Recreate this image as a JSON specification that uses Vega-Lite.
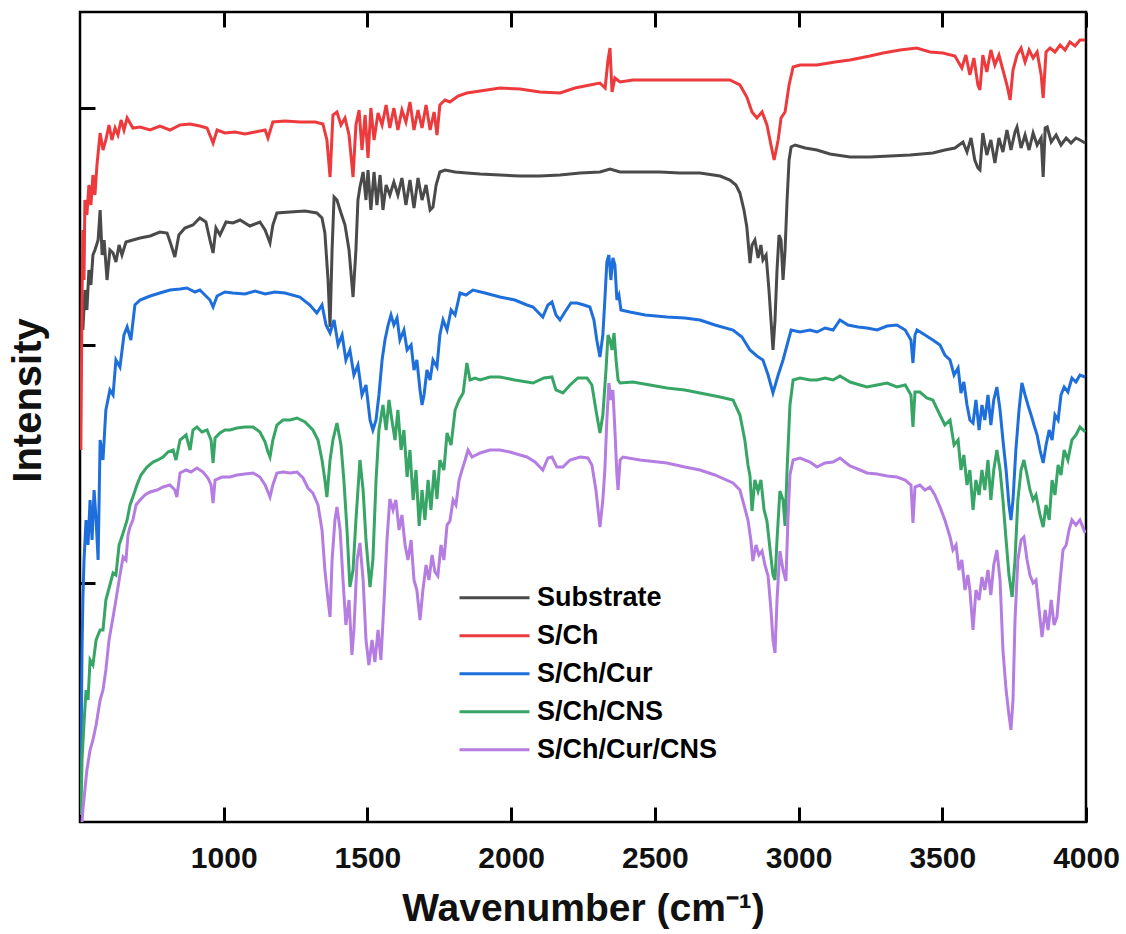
{
  "$schema": "https://vega.github.io/schema/vega-lite/v6.json",
  "width": 1006,
  "height": 810,
  "autosize": {"type": "none"},
  "padding": {"left": 80, "top": 12, "right": 40, "bottom": 112},
  "background": "white",
  "config": {
    "view": {"stroke": "black", "strokeWidth": 2.5},
    "font": "Liberation Sans"
  },
  "data": {"values": [
{"s":"Substrate","x":510,"v":492},{"s":"Substrate","x":517,"v":532},{"s":"Substrate","x":524,"v":512},{"s":"Substrate","x":531,"v":552},{"s":"Substrate","x":538,"v":537},{"s":"Substrate","x":545,"v":567},{"s":"Substrate","x":552,"v":572},{"s":"Substrate","x":563,"v":582},{"s":"Substrate","x":570,"v":612},{"s":"Substrate","x":577,"v":567},{"s":"Substrate","x":584,"v":582},{"s":"Substrate","x":594,"v":542},{"s":"Substrate","x":604,"v":572},{"s":"Substrate","x":615,"v":569},{"s":"Substrate","x":625,"v":560},{"s":"Substrate","x":636,"v":577},{"s":"Substrate","x":646,"v":567},{"s":"Substrate","x":660,"v":580},{"s":"Substrate","x":684,"v":582},{"s":"Substrate","x":709,"v":584},{"s":"Substrate","x":744,"v":586},{"s":"Substrate","x":778,"v":590},{"s":"Substrate","x":803,"v":589},{"s":"Substrate","x":817,"v":577},{"s":"Substrate","x":830,"v":565},{"s":"Substrate","x":844,"v":587},{"s":"Substrate","x":865,"v":594},{"s":"Substrate","x":893,"v":597},{"s":"Substrate","x":917,"v":604},{"s":"Substrate","x":938,"v":600},{"s":"Substrate","x":952,"v":582},{"s":"Substrate","x":963,"v":569},{"s":"Substrate","x":973,"v":594},{"s":"Substrate","x":987,"v":587},{"s":"Substrate","x":1008,"v":600},{"s":"Substrate","x":1032,"v":599},{"s":"Substrate","x":1057,"v":602},{"s":"Substrate","x":1091,"v":596},{"s":"Substrate","x":1126,"v":600},{"s":"Substrate","x":1144,"v":592},{"s":"Substrate","x":1161,"v":579},{"s":"Substrate","x":1171,"v":597},{"s":"Substrate","x":1185,"v":609},{"s":"Substrate","x":1231,"v":610},{"s":"Substrate","x":1283,"v":611},{"s":"Substrate","x":1324,"v":609},{"s":"Substrate","x":1342,"v":604},{"s":"Substrate","x":1352,"v":589},{"s":"Substrate","x":1363,"v":542},{"s":"Substrate","x":1370,"v":495},{"s":"Substrate","x":1377,"v":572},{"s":"Substrate","x":1384,"v":625},{"s":"Substrate","x":1394,"v":622},{"s":"Substrate","x":1408,"v":609},{"s":"Substrate","x":1422,"v":597},{"s":"Substrate","x":1436,"v":572},{"s":"Substrate","x":1450,"v":525},{"s":"Substrate","x":1460,"v":572},{"s":"Substrate","x":1467,"v":622},{"s":"Substrate","x":1474,"v":635},{"s":"Substrate","x":1485,"v":650},{"s":"Substrate","x":1495,"v":622},{"s":"Substrate","x":1502,"v":652},{"s":"Substrate","x":1512,"v":612},{"s":"Substrate","x":1523,"v":650},{"s":"Substrate","x":1533,"v":617},{"s":"Substrate","x":1544,"v":647},{"s":"Substrate","x":1554,"v":612},{"s":"Substrate","x":1565,"v":637},{"s":"Substrate","x":1578,"v":627},{"s":"Substrate","x":1592,"v":640},{"s":"Substrate","x":1606,"v":627},{"s":"Substrate","x":1620,"v":644},{"s":"Substrate","x":1634,"v":617},{"s":"Substrate","x":1648,"v":642},{"s":"Substrate","x":1662,"v":614},{"s":"Substrate","x":1676,"v":644},{"s":"Substrate","x":1690,"v":622},{"s":"Substrate","x":1704,"v":637},{"s":"Substrate","x":1718,"v":612},{"s":"Substrate","x":1728,"v":615},{"s":"Substrate","x":1739,"v":637},{"s":"Substrate","x":1752,"v":650},{"s":"Substrate","x":1770,"v":652},{"s":"Substrate","x":1805,"v":650},{"s":"Substrate","x":1846,"v":649},{"s":"Substrate","x":1892,"v":648},{"s":"Substrate","x":1961,"v":647},{"s":"Substrate","x":2031,"v":646},{"s":"Substrate","x":2100,"v":646},{"s":"Substrate","x":2170,"v":647},{"s":"Substrate","x":2240,"v":649},{"s":"Substrate","x":2309,"v":650},{"s":"Substrate","x":2344,"v":653},{"s":"Substrate","x":2379,"v":650},{"s":"Substrate","x":2448,"v":650},{"s":"Substrate","x":2518,"v":650},{"s":"Substrate","x":2587,"v":649},{"s":"Substrate","x":2657,"v":649},{"s":"Substrate","x":2727,"v":646},{"s":"Substrate","x":2761,"v":642},{"s":"Substrate","x":2782,"v":637},{"s":"Substrate","x":2796,"v":629},{"s":"Substrate","x":2810,"v":612},{"s":"Substrate","x":2820,"v":595},{"s":"Substrate","x":2827,"v":572},{"s":"Substrate","x":2831,"v":559},{"s":"Substrate","x":2838,"v":577},{"s":"Substrate","x":2848,"v":582},{"s":"Substrate","x":2859,"v":564},{"s":"Substrate","x":2869,"v":577},{"s":"Substrate","x":2876,"v":562},{"s":"Substrate","x":2887,"v":567},{"s":"Substrate","x":2897,"v":532},{"s":"Substrate","x":2904,"v":502},{"s":"Substrate","x":2911,"v":472},{"s":"Substrate","x":2918,"v":502},{"s":"Substrate","x":2925,"v":552},{"s":"Substrate","x":2932,"v":587},{"s":"Substrate","x":2939,"v":582},{"s":"Substrate","x":2946,"v":542},{"s":"Substrate","x":2953,"v":572},{"s":"Substrate","x":2960,"v":622},{"s":"Substrate","x":2967,"v":662},{"s":"Substrate","x":2974,"v":675},{"s":"Substrate","x":2988,"v":677},{"s":"Substrate","x":3023,"v":674},{"s":"Substrate","x":3064,"v":672},{"s":"Substrate","x":3109,"v":668},{"s":"Substrate","x":3179,"v":665},{"s":"Substrate","x":3248,"v":665},{"s":"Substrate","x":3318,"v":666},{"s":"Substrate","x":3388,"v":667},{"s":"Substrate","x":3467,"v":669},{"s":"Substrate","x":3509,"v":672},{"s":"Substrate","x":3544,"v":674},{"s":"Substrate","x":3572,"v":680},{"s":"Substrate","x":3586,"v":670},{"s":"Substrate","x":3600,"v":684},{"s":"Substrate","x":3613,"v":662},{"s":"Substrate","x":3624,"v":654},{"s":"Substrate","x":3631,"v":652},{"s":"Substrate","x":3641,"v":689},{"s":"Substrate","x":3655,"v":667},{"s":"Substrate","x":3669,"v":682},{"s":"Substrate","x":3683,"v":659},{"s":"Substrate","x":3697,"v":684},{"s":"Substrate","x":3711,"v":670},{"s":"Substrate","x":3725,"v":692},{"s":"Substrate","x":3739,"v":672},{"s":"Substrate","x":3753,"v":690},{"s":"Substrate","x":3760,"v":695},{"s":"Substrate","x":3774,"v":674},{"s":"Substrate","x":3788,"v":687},{"s":"Substrate","x":3802,"v":672},{"s":"Substrate","x":3816,"v":689},{"s":"Substrate","x":3830,"v":677},{"s":"Substrate","x":3844,"v":684},{"s":"Substrate","x":3851,"v":645},{"s":"Substrate","x":3858,"v":694},{"s":"Substrate","x":3865,"v":695},{"s":"Substrate","x":3879,"v":680},{"s":"Substrate","x":3896,"v":687},{"s":"Substrate","x":3913,"v":677},{"s":"Substrate","x":3931,"v":684},{"s":"Substrate","x":3948,"v":679},{"s":"Substrate","x":3965,"v":684},{"s":"Substrate","x":3979,"v":682},{"s":"Substrate","x":3997,"v":679},
{"s":"S/Ch","x":503,"v":372},{"s":"S/Ch","x":507,"v":522},{"s":"S/Ch","x":510,"v":592},{"s":"S/Ch","x":514,"v":542},{"s":"S/Ch","x":517,"v":622},{"s":"S/Ch","x":524,"v":607},{"s":"S/Ch","x":531,"v":637},{"s":"S/Ch","x":538,"v":617},{"s":"S/Ch","x":545,"v":647},{"s":"S/Ch","x":552,"v":627},{"s":"S/Ch","x":559,"v":657},{"s":"S/Ch","x":570,"v":689},{"s":"S/Ch","x":580,"v":672},{"s":"S/Ch","x":590,"v":682},{"s":"S/Ch","x":601,"v":697},{"s":"S/Ch","x":611,"v":682},{"s":"S/Ch","x":622,"v":694},{"s":"S/Ch","x":632,"v":687},{"s":"S/Ch","x":643,"v":702},{"s":"S/Ch","x":653,"v":692},{"s":"S/Ch","x":664,"v":704},{"s":"S/Ch","x":684,"v":694},{"s":"S/Ch","x":709,"v":695},{"s":"S/Ch","x":744,"v":692},{"s":"S/Ch","x":778,"v":696},{"s":"S/Ch","x":813,"v":692},{"s":"S/Ch","x":848,"v":697},{"s":"S/Ch","x":883,"v":698},{"s":"S/Ch","x":917,"v":696},{"s":"S/Ch","x":942,"v":694},{"s":"S/Ch","x":963,"v":679},{"s":"S/Ch","x":977,"v":692},{"s":"S/Ch","x":1004,"v":689},{"s":"S/Ch","x":1039,"v":690},{"s":"S/Ch","x":1074,"v":688},{"s":"S/Ch","x":1109,"v":690},{"s":"S/Ch","x":1144,"v":692},{"s":"S/Ch","x":1154,"v":684},{"s":"S/Ch","x":1171,"v":700},{"s":"S/Ch","x":1213,"v":701},{"s":"S/Ch","x":1265,"v":700},{"s":"S/Ch","x":1318,"v":700},{"s":"S/Ch","x":1345,"v":698},{"s":"S/Ch","x":1359,"v":682},{"s":"S/Ch","x":1370,"v":645},{"s":"S/Ch","x":1380,"v":707},{"s":"S/Ch","x":1394,"v":710},{"s":"S/Ch","x":1408,"v":697},{"s":"S/Ch","x":1422,"v":704},{"s":"S/Ch","x":1436,"v":687},{"s":"S/Ch","x":1450,"v":645},{"s":"S/Ch","x":1460,"v":697},{"s":"S/Ch","x":1471,"v":712},{"s":"S/Ch","x":1481,"v":672},{"s":"S/Ch","x":1492,"v":707},{"s":"S/Ch","x":1502,"v":664},{"s":"S/Ch","x":1512,"v":714},{"s":"S/Ch","x":1523,"v":682},{"s":"S/Ch","x":1537,"v":709},{"s":"S/Ch","x":1551,"v":697},{"s":"S/Ch","x":1565,"v":717},{"s":"S/Ch","x":1578,"v":694},{"s":"S/Ch","x":1592,"v":714},{"s":"S/Ch","x":1606,"v":692},{"s":"S/Ch","x":1620,"v":712},{"s":"S/Ch","x":1634,"v":700},{"s":"S/Ch","x":1648,"v":720},{"s":"S/Ch","x":1662,"v":692},{"s":"S/Ch","x":1676,"v":712},{"s":"S/Ch","x":1690,"v":694},{"s":"S/Ch","x":1704,"v":717},{"s":"S/Ch","x":1718,"v":692},{"s":"S/Ch","x":1732,"v":710},{"s":"S/Ch","x":1742,"v":687},{"s":"S/Ch","x":1752,"v":717},{"s":"S/Ch","x":1770,"v":722},{"s":"S/Ch","x":1787,"v":720},{"s":"S/Ch","x":1815,"v":726},{"s":"S/Ch","x":1846,"v":729},{"s":"S/Ch","x":1892,"v":731},{"s":"S/Ch","x":1961,"v":734},{"s":"S/Ch","x":2031,"v":733},{"s":"S/Ch","x":2100,"v":730},{"s":"S/Ch","x":2170,"v":729},{"s":"S/Ch","x":2222,"v":734},{"s":"S/Ch","x":2274,"v":737},{"s":"S/Ch","x":2309,"v":739},{"s":"S/Ch","x":2327,"v":734},{"s":"S/Ch","x":2337,"v":762},{"s":"S/Ch","x":2344,"v":774},{"s":"S/Ch","x":2351,"v":730},{"s":"S/Ch","x":2361,"v":744},{"s":"S/Ch","x":2379,"v":740},{"s":"S/Ch","x":2424,"v":742},{"s":"S/Ch","x":2518,"v":742},{"s":"S/Ch","x":2657,"v":742},{"s":"S/Ch","x":2761,"v":742},{"s":"S/Ch","x":2796,"v":737},{"s":"S/Ch","x":2820,"v":725},{"s":"S/Ch","x":2838,"v":710},{"s":"S/Ch","x":2855,"v":704},{"s":"S/Ch","x":2873,"v":710},{"s":"S/Ch","x":2890,"v":697},{"s":"S/Ch","x":2904,"v":677},{"s":"S/Ch","x":2915,"v":662},{"s":"S/Ch","x":2929,"v":682},{"s":"S/Ch","x":2939,"v":704},{"s":"S/Ch","x":2953,"v":710},{"s":"S/Ch","x":2967,"v":737},{"s":"S/Ch","x":2981,"v":755},{"s":"S/Ch","x":3005,"v":757},{"s":"S/Ch","x":3064,"v":757},{"s":"S/Ch","x":3127,"v":760},{"s":"S/Ch","x":3179,"v":762},{"s":"S/Ch","x":3248,"v":766},{"s":"S/Ch","x":3294,"v":769},{"s":"S/Ch","x":3353,"v":772},{"s":"S/Ch","x":3411,"v":774},{"s":"S/Ch","x":3457,"v":770},{"s":"S/Ch","x":3502,"v":769},{"s":"S/Ch","x":3544,"v":766},{"s":"S/Ch","x":3568,"v":754},{"s":"S/Ch","x":3582,"v":767},{"s":"S/Ch","x":3596,"v":747},{"s":"S/Ch","x":3610,"v":764},{"s":"S/Ch","x":3624,"v":737},{"s":"S/Ch","x":3631,"v":732},{"s":"S/Ch","x":3641,"v":767},{"s":"S/Ch","x":3655,"v":750},{"s":"S/Ch","x":3669,"v":772},{"s":"S/Ch","x":3683,"v":757},{"s":"S/Ch","x":3697,"v":767},{"s":"S/Ch","x":3711,"v":752},{"s":"S/Ch","x":3725,"v":737},{"s":"S/Ch","x":3736,"v":722},{"s":"S/Ch","x":3746,"v":752},{"s":"S/Ch","x":3760,"v":767},{"s":"S/Ch","x":3774,"v":774},{"s":"S/Ch","x":3788,"v":760},{"s":"S/Ch","x":3802,"v":772},{"s":"S/Ch","x":3816,"v":764},{"s":"S/Ch","x":3830,"v":770},{"s":"S/Ch","x":3844,"v":747},{"s":"S/Ch","x":3851,"v":724},{"s":"S/Ch","x":3861,"v":770},{"s":"S/Ch","x":3875,"v":774},{"s":"S/Ch","x":3892,"v":770},{"s":"S/Ch","x":3910,"v":777},{"s":"S/Ch","x":3927,"v":772},{"s":"S/Ch","x":3944,"v":780},{"s":"S/Ch","x":3962,"v":776},{"s":"S/Ch","x":3979,"v":782},{"s":"S/Ch","x":3997,"v":782},
{"s":"S/Ch/Cur","x":503,"v":42},{"s":"S/Ch/Cur","x":507,"v":172},{"s":"S/Ch/Cur","x":510,"v":222},{"s":"S/Ch/Cur","x":514,"v":262},{"s":"S/Ch/Cur","x":521,"v":302},{"s":"S/Ch/Cur","x":528,"v":277},{"s":"S/Ch/Cur","x":535,"v":322},{"s":"S/Ch/Cur","x":542,"v":282},{"s":"S/Ch/Cur","x":549,"v":332},{"s":"S/Ch/Cur","x":556,"v":302},{"s":"S/Ch/Cur","x":563,"v":262},{"s":"S/Ch/Cur","x":570,"v":382},{"s":"S/Ch/Cur","x":580,"v":362},{"s":"S/Ch/Cur","x":590,"v":412},{"s":"S/Ch/Cur","x":604,"v":432},{"s":"S/Ch/Cur","x":615,"v":427},{"s":"S/Ch/Cur","x":625,"v":462},{"s":"S/Ch/Cur","x":639,"v":455},{"s":"S/Ch/Cur","x":653,"v":487},{"s":"S/Ch/Cur","x":664,"v":495},{"s":"S/Ch/Cur","x":677,"v":482},{"s":"S/Ch/Cur","x":691,"v":517},{"s":"S/Ch/Cur","x":709,"v":522},{"s":"S/Ch/Cur","x":744,"v":526},{"s":"S/Ch/Cur","x":778,"v":529},{"s":"S/Ch/Cur","x":813,"v":532},{"s":"S/Ch/Cur","x":848,"v":533},{"s":"S/Ch/Cur","x":872,"v":534},{"s":"S/Ch/Cur","x":900,"v":530},{"s":"S/Ch/Cur","x":917,"v":532},{"s":"S/Ch/Cur","x":938,"v":526},{"s":"S/Ch/Cur","x":952,"v":522},{"s":"S/Ch/Cur","x":963,"v":515},{"s":"S/Ch/Cur","x":977,"v":526},{"s":"S/Ch/Cur","x":1004,"v":530},{"s":"S/Ch/Cur","x":1032,"v":529},{"s":"S/Ch/Cur","x":1074,"v":528},{"s":"S/Ch/Cur","x":1109,"v":531},{"s":"S/Ch/Cur","x":1144,"v":528},{"s":"S/Ch/Cur","x":1178,"v":530},{"s":"S/Ch/Cur","x":1213,"v":529},{"s":"S/Ch/Cur","x":1265,"v":525},{"s":"S/Ch/Cur","x":1300,"v":517},{"s":"S/Ch/Cur","x":1324,"v":509},{"s":"S/Ch/Cur","x":1342,"v":517},{"s":"S/Ch/Cur","x":1356,"v":497},{"s":"S/Ch/Cur","x":1370,"v":489},{"s":"S/Ch/Cur","x":1384,"v":502},{"s":"S/Ch/Cur","x":1398,"v":477},{"s":"S/Ch/Cur","x":1412,"v":487},{"s":"S/Ch/Cur","x":1425,"v":462},{"s":"S/Ch/Cur","x":1439,"v":472},{"s":"S/Ch/Cur","x":1453,"v":447},{"s":"S/Ch/Cur","x":1467,"v":457},{"s":"S/Ch/Cur","x":1481,"v":427},{"s":"S/Ch/Cur","x":1495,"v":437},{"s":"S/Ch/Cur","x":1509,"v":402},{"s":"S/Ch/Cur","x":1519,"v":392},{"s":"S/Ch/Cur","x":1530,"v":402},{"s":"S/Ch/Cur","x":1540,"v":427},{"s":"S/Ch/Cur","x":1551,"v":462},{"s":"S/Ch/Cur","x":1561,"v":482},{"s":"S/Ch/Cur","x":1572,"v":497},{"s":"S/Ch/Cur","x":1582,"v":507},{"s":"S/Ch/Cur","x":1592,"v":497},{"s":"S/Ch/Cur","x":1603,"v":504},{"s":"S/Ch/Cur","x":1613,"v":482},{"s":"S/Ch/Cur","x":1627,"v":492},{"s":"S/Ch/Cur","x":1638,"v":472},{"s":"S/Ch/Cur","x":1652,"v":477},{"s":"S/Ch/Cur","x":1662,"v":452},{"s":"S/Ch/Cur","x":1672,"v":462},{"s":"S/Ch/Cur","x":1683,"v":432},{"s":"S/Ch/Cur","x":1690,"v":417},{"s":"S/Ch/Cur","x":1697,"v":427},{"s":"S/Ch/Cur","x":1707,"v":452},{"s":"S/Ch/Cur","x":1718,"v":442},{"s":"S/Ch/Cur","x":1728,"v":462},{"s":"S/Ch/Cur","x":1742,"v":455},{"s":"S/Ch/Cur","x":1752,"v":487},{"s":"S/Ch/Cur","x":1763,"v":502},{"s":"S/Ch/Cur","x":1777,"v":492},{"s":"S/Ch/Cur","x":1791,"v":512},{"s":"S/Ch/Cur","x":1805,"v":507},{"s":"S/Ch/Cur","x":1822,"v":529},{"s":"S/Ch/Cur","x":1843,"v":527},{"s":"S/Ch/Cur","x":1867,"v":532},{"s":"S/Ch/Cur","x":1909,"v":529},{"s":"S/Ch/Cur","x":1961,"v":525},{"s":"S/Ch/Cur","x":2013,"v":522},{"s":"S/Ch/Cur","x":2055,"v":517},{"s":"S/Ch/Cur","x":2076,"v":515},{"s":"S/Ch/Cur","x":2093,"v":510},{"s":"S/Ch/Cur","x":2110,"v":505},{"s":"S/Ch/Cur","x":2128,"v":517},{"s":"S/Ch/Cur","x":2142,"v":520},{"s":"S/Ch/Cur","x":2156,"v":507},{"s":"S/Ch/Cur","x":2170,"v":502},{"s":"S/Ch/Cur","x":2187,"v":510},{"s":"S/Ch/Cur","x":2208,"v":519},{"s":"S/Ch/Cur","x":2229,"v":519},{"s":"S/Ch/Cur","x":2253,"v":517},{"s":"S/Ch/Cur","x":2274,"v":515},{"s":"S/Ch/Cur","x":2288,"v":502},{"s":"S/Ch/Cur","x":2298,"v":482},{"s":"S/Ch/Cur","x":2309,"v":465},{"s":"S/Ch/Cur","x":2319,"v":487},{"s":"S/Ch/Cur","x":2326,"v":522},{"s":"S/Ch/Cur","x":2333,"v":560},{"s":"S/Ch/Cur","x":2340,"v":567},{"s":"S/Ch/Cur","x":2347,"v":542},{"s":"S/Ch/Cur","x":2354,"v":564},{"s":"S/Ch/Cur","x":2361,"v":557},{"s":"S/Ch/Cur","x":2368,"v":522},{"s":"S/Ch/Cur","x":2375,"v":527},{"s":"S/Ch/Cur","x":2382,"v":512},{"s":"S/Ch/Cur","x":2413,"v":510},{"s":"S/Ch/Cur","x":2466,"v":507},{"s":"S/Ch/Cur","x":2542,"v":505},{"s":"S/Ch/Cur","x":2604,"v":504},{"s":"S/Ch/Cur","x":2657,"v":502},{"s":"S/Ch/Cur","x":2709,"v":497},{"s":"S/Ch/Cur","x":2772,"v":492},{"s":"S/Ch/Cur","x":2803,"v":485},{"s":"S/Ch/Cur","x":2831,"v":472},{"s":"S/Ch/Cur","x":2855,"v":466},{"s":"S/Ch/Cur","x":2876,"v":462},{"s":"S/Ch/Cur","x":2894,"v":447},{"s":"S/Ch/Cur","x":2911,"v":429},{"s":"S/Ch/Cur","x":2929,"v":447},{"s":"S/Ch/Cur","x":2946,"v":462},{"s":"S/Ch/Cur","x":2960,"v":477},{"s":"S/Ch/Cur","x":2974,"v":492},{"s":"S/Ch/Cur","x":3005,"v":490},{"s":"S/Ch/Cur","x":3040,"v":492},{"s":"S/Ch/Cur","x":3064,"v":490},{"s":"S/Ch/Cur","x":3092,"v":494},{"s":"S/Ch/Cur","x":3120,"v":492},{"s":"S/Ch/Cur","x":3144,"v":502},{"s":"S/Ch/Cur","x":3172,"v":497},{"s":"S/Ch/Cur","x":3207,"v":495},{"s":"S/Ch/Cur","x":3238,"v":494},{"s":"S/Ch/Cur","x":3273,"v":492},{"s":"S/Ch/Cur","x":3308,"v":496},{"s":"S/Ch/Cur","x":3342,"v":497},{"s":"S/Ch/Cur","x":3371,"v":492},{"s":"S/Ch/Cur","x":3391,"v":482},{"s":"S/Ch/Cur","x":3398,"v":459},{"s":"S/Ch/Cur","x":3405,"v":487},{"s":"S/Ch/Cur","x":3412,"v":492},{"s":"S/Ch/Cur","x":3440,"v":487},{"s":"S/Ch/Cur","x":3467,"v":482},{"s":"S/Ch/Cur","x":3492,"v":477},{"s":"S/Ch/Cur","x":3509,"v":467},{"s":"S/Ch/Cur","x":3527,"v":462},{"s":"S/Ch/Cur","x":3541,"v":447},{"s":"S/Ch/Cur","x":3555,"v":454},{"s":"S/Ch/Cur","x":3565,"v":429},{"s":"S/Ch/Cur","x":3575,"v":440},{"s":"S/Ch/Cur","x":3586,"v":417},{"s":"S/Ch/Cur","x":3596,"v":402},{"s":"S/Ch/Cur","x":3607,"v":399},{"s":"S/Ch/Cur","x":3617,"v":422},{"s":"S/Ch/Cur","x":3628,"v":392},{"s":"S/Ch/Cur","x":3638,"v":417},{"s":"S/Ch/Cur","x":3648,"v":402},{"s":"S/Ch/Cur","x":3659,"v":427},{"s":"S/Ch/Cur","x":3669,"v":397},{"s":"S/Ch/Cur","x":3679,"v":422},{"s":"S/Ch/Cur","x":3690,"v":435},{"s":"S/Ch/Cur","x":3701,"v":412},{"s":"S/Ch/Cur","x":3711,"v":382},{"s":"S/Ch/Cur","x":3722,"v":352},{"s":"S/Ch/Cur","x":3732,"v":317},{"s":"S/Ch/Cur","x":3739,"v":302},{"s":"S/Ch/Cur","x":3746,"v":322},{"s":"S/Ch/Cur","x":3756,"v":372},{"s":"S/Ch/Cur","x":3767,"v":412},{"s":"S/Ch/Cur","x":3777,"v":439},{"s":"S/Ch/Cur","x":3788,"v":427},{"s":"S/Ch/Cur","x":3798,"v":417},{"s":"S/Ch/Cur","x":3809,"v":407},{"s":"S/Ch/Cur","x":3819,"v":397},{"s":"S/Ch/Cur","x":3830,"v":387},{"s":"S/Ch/Cur","x":3840,"v":372},{"s":"S/Ch/Cur","x":3851,"v":359},{"s":"S/Ch/Cur","x":3861,"v":377},{"s":"S/Ch/Cur","x":3872,"v":392},{"s":"S/Ch/Cur","x":3882,"v":382},{"s":"S/Ch/Cur","x":3892,"v":407},{"s":"S/Ch/Cur","x":3903,"v":402},{"s":"S/Ch/Cur","x":3913,"v":427},{"s":"S/Ch/Cur","x":3924,"v":435},{"s":"S/Ch/Cur","x":3937,"v":430},{"s":"S/Ch/Cur","x":3951,"v":444},{"s":"S/Ch/Cur","x":3965,"v":440},{"s":"S/Ch/Cur","x":3979,"v":447},{"s":"S/Ch/Cur","x":3997,"v":445},
{"s":"S/Ch/CNS","x":503,"v":7},{"s":"S/Ch/CNS","x":507,"v":62},{"s":"S/Ch/CNS","x":514,"v":99},{"s":"S/Ch/CNS","x":521,"v":132},{"s":"S/Ch/CNS","x":528,"v":122},{"s":"S/Ch/CNS","x":535,"v":162},{"s":"S/Ch/CNS","x":545,"v":157},{"s":"S/Ch/CNS","x":556,"v":182},{"s":"S/Ch/CNS","x":570,"v":192},{"s":"S/Ch/CNS","x":580,"v":192},{"s":"S/Ch/CNS","x":590,"v":222},{"s":"S/Ch/CNS","x":604,"v":237},{"s":"S/Ch/CNS","x":615,"v":249},{"s":"S/Ch/CNS","x":625,"v":247},{"s":"S/Ch/CNS","x":636,"v":277},{"s":"S/Ch/CNS","x":650,"v":289},{"s":"S/Ch/CNS","x":664,"v":302},{"s":"S/Ch/CNS","x":674,"v":317},{"s":"S/Ch/CNS","x":684,"v":325},{"s":"S/Ch/CNS","x":698,"v":337},{"s":"S/Ch/CNS","x":712,"v":347},{"s":"S/Ch/CNS","x":733,"v":355},{"s":"S/Ch/CNS","x":754,"v":360},{"s":"S/Ch/CNS","x":771,"v":362},{"s":"S/Ch/CNS","x":789,"v":365},{"s":"S/Ch/CNS","x":806,"v":370},{"s":"S/Ch/CNS","x":824,"v":372},{"s":"S/Ch/CNS","x":834,"v":362},{"s":"S/Ch/CNS","x":848,"v":382},{"s":"S/Ch/CNS","x":869,"v":387},{"s":"S/Ch/CNS","x":883,"v":372},{"s":"S/Ch/CNS","x":893,"v":392},{"s":"S/Ch/CNS","x":907,"v":395},{"s":"S/Ch/CNS","x":924,"v":390},{"s":"S/Ch/CNS","x":942,"v":392},{"s":"S/Ch/CNS","x":956,"v":382},{"s":"S/Ch/CNS","x":963,"v":359},{"s":"S/Ch/CNS","x":970,"v":384},{"s":"S/Ch/CNS","x":987,"v":389},{"s":"S/Ch/CNS","x":1004,"v":392},{"s":"S/Ch/CNS","x":1022,"v":392},{"s":"S/Ch/CNS","x":1046,"v":394},{"s":"S/Ch/CNS","x":1074,"v":395},{"s":"S/Ch/CNS","x":1102,"v":395},{"s":"S/Ch/CNS","x":1126,"v":390},{"s":"S/Ch/CNS","x":1144,"v":380},{"s":"S/Ch/CNS","x":1154,"v":370},{"s":"S/Ch/CNS","x":1161,"v":365},{"s":"S/Ch/CNS","x":1171,"v":382},{"s":"S/Ch/CNS","x":1185,"v":397},{"s":"S/Ch/CNS","x":1206,"v":402},{"s":"S/Ch/CNS","x":1231,"v":402},{"s":"S/Ch/CNS","x":1255,"v":404},{"s":"S/Ch/CNS","x":1283,"v":400},{"s":"S/Ch/CNS","x":1310,"v":392},{"s":"S/Ch/CNS","x":1328,"v":382},{"s":"S/Ch/CNS","x":1342,"v":362},{"s":"S/Ch/CNS","x":1352,"v":342},{"s":"S/Ch/CNS","x":1359,"v":325},{"s":"S/Ch/CNS","x":1370,"v":362},{"s":"S/Ch/CNS","x":1380,"v":382},{"s":"S/Ch/CNS","x":1394,"v":399},{"s":"S/Ch/CNS","x":1408,"v":377},{"s":"S/Ch/CNS","x":1418,"v":342},{"s":"S/Ch/CNS","x":1429,"v":292},{"s":"S/Ch/CNS","x":1439,"v":235},{"s":"S/Ch/CNS","x":1450,"v":252},{"s":"S/Ch/CNS","x":1460,"v":302},{"s":"S/Ch/CNS","x":1474,"v":362},{"s":"S/Ch/CNS","x":1485,"v":332},{"s":"S/Ch/CNS","x":1495,"v":282},{"s":"S/Ch/CNS","x":1509,"v":235},{"s":"S/Ch/CNS","x":1519,"v":262},{"s":"S/Ch/CNS","x":1530,"v":342},{"s":"S/Ch/CNS","x":1540,"v":392},{"s":"S/Ch/CNS","x":1554,"v":417},{"s":"S/Ch/CNS","x":1565,"v":392},{"s":"S/Ch/CNS","x":1575,"v":422},{"s":"S/Ch/CNS","x":1585,"v":402},{"s":"S/Ch/CNS","x":1596,"v":382},{"s":"S/Ch/CNS","x":1606,"v":412},{"s":"S/Ch/CNS","x":1617,"v":372},{"s":"S/Ch/CNS","x":1627,"v":392},{"s":"S/Ch/CNS","x":1638,"v":345},{"s":"S/Ch/CNS","x":1648,"v":372},{"s":"S/Ch/CNS","x":1659,"v":322},{"s":"S/Ch/CNS","x":1669,"v":352},{"s":"S/Ch/CNS","x":1680,"v":296},{"s":"S/Ch/CNS","x":1690,"v":332},{"s":"S/Ch/CNS","x":1700,"v":302},{"s":"S/Ch/CNS","x":1711,"v":342},{"s":"S/Ch/CNS","x":1721,"v":312},{"s":"S/Ch/CNS","x":1732,"v":352},{"s":"S/Ch/CNS","x":1742,"v":323},{"s":"S/Ch/CNS","x":1752,"v":362},{"s":"S/Ch/CNS","x":1766,"v":352},{"s":"S/Ch/CNS","x":1777,"v":389},{"s":"S/Ch/CNS","x":1791,"v":377},{"s":"S/Ch/CNS","x":1805,"v":412},{"s":"S/Ch/CNS","x":1819,"v":422},{"s":"S/Ch/CNS","x":1833,"v":429},{"s":"S/Ch/CNS","x":1846,"v":459},{"s":"S/Ch/CNS","x":1857,"v":442},{"s":"S/Ch/CNS","x":1874,"v":444},{"s":"S/Ch/CNS","x":1892,"v":442},{"s":"S/Ch/CNS","x":1926,"v":445},{"s":"S/Ch/CNS","x":1961,"v":445},{"s":"S/Ch/CNS","x":2013,"v":442},{"s":"S/Ch/CNS","x":2076,"v":439},{"s":"S/Ch/CNS","x":2114,"v":444},{"s":"S/Ch/CNS","x":2142,"v":445},{"s":"S/Ch/CNS","x":2156,"v":432},{"s":"S/Ch/CNS","x":2180,"v":429},{"s":"S/Ch/CNS","x":2205,"v":437},{"s":"S/Ch/CNS","x":2232,"v":444},{"s":"S/Ch/CNS","x":2264,"v":444},{"s":"S/Ch/CNS","x":2281,"v":437},{"s":"S/Ch/CNS","x":2295,"v":412},{"s":"S/Ch/CNS","x":2309,"v":389},{"s":"S/Ch/CNS","x":2319,"v":407},{"s":"S/Ch/CNS","x":2330,"v":452},{"s":"S/Ch/CNS","x":2337,"v":487},{"s":"S/Ch/CNS","x":2344,"v":482},{"s":"S/Ch/CNS","x":2351,"v":472},{"s":"S/Ch/CNS","x":2358,"v":489},{"s":"S/Ch/CNS","x":2365,"v":462},{"s":"S/Ch/CNS","x":2372,"v":442},{"s":"S/Ch/CNS","x":2379,"v":439},{"s":"S/Ch/CNS","x":2424,"v":440},{"s":"S/Ch/CNS","x":2483,"v":437},{"s":"S/Ch/CNS","x":2542,"v":434},{"s":"S/Ch/CNS","x":2604,"v":432},{"s":"S/Ch/CNS","x":2657,"v":429},{"s":"S/Ch/CNS","x":2727,"v":425},{"s":"S/Ch/CNS","x":2772,"v":422},{"s":"S/Ch/CNS","x":2796,"v":407},{"s":"S/Ch/CNS","x":2813,"v":382},{"s":"S/Ch/CNS","x":2824,"v":357},{"s":"S/Ch/CNS","x":2831,"v":346},{"s":"S/Ch/CNS","x":2838,"v":311},{"s":"S/Ch/CNS","x":2848,"v":342},{"s":"S/Ch/CNS","x":2859,"v":331},{"s":"S/Ch/CNS","x":2869,"v":342},{"s":"S/Ch/CNS","x":2880,"v":312},{"s":"S/Ch/CNS","x":2890,"v":301},{"s":"S/Ch/CNS","x":2901,"v":272},{"s":"S/Ch/CNS","x":2911,"v":247},{"s":"S/Ch/CNS","x":2918,"v":242},{"s":"S/Ch/CNS","x":2925,"v":282},{"s":"S/Ch/CNS","x":2935,"v":331},{"s":"S/Ch/CNS","x":2946,"v":322},{"s":"S/Ch/CNS","x":2953,"v":296},{"s":"S/Ch/CNS","x":2960,"v":352},{"s":"S/Ch/CNS","x":2970,"v":417},{"s":"S/Ch/CNS","x":2981,"v":442},{"s":"S/Ch/CNS","x":3005,"v":444},{"s":"S/Ch/CNS","x":3040,"v":442},{"s":"S/Ch/CNS","x":3064,"v":442},{"s":"S/Ch/CNS","x":3092,"v":444},{"s":"S/Ch/CNS","x":3120,"v":442},{"s":"S/Ch/CNS","x":3144,"v":446},{"s":"S/Ch/CNS","x":3179,"v":440},{"s":"S/Ch/CNS","x":3214,"v":437},{"s":"S/Ch/CNS","x":3238,"v":435},{"s":"S/Ch/CNS","x":3273,"v":437},{"s":"S/Ch/CNS","x":3308,"v":439},{"s":"S/Ch/CNS","x":3342,"v":435},{"s":"S/Ch/CNS","x":3371,"v":437},{"s":"S/Ch/CNS","x":3391,"v":427},{"s":"S/Ch/CNS","x":3398,"v":395},{"s":"S/Ch/CNS","x":3405,"v":430},{"s":"S/Ch/CNS","x":3422,"v":430},{"s":"S/Ch/CNS","x":3446,"v":424},{"s":"S/Ch/CNS","x":3467,"v":422},{"s":"S/Ch/CNS","x":3492,"v":407},{"s":"S/Ch/CNS","x":3509,"v":397},{"s":"S/Ch/CNS","x":3527,"v":402},{"s":"S/Ch/CNS","x":3541,"v":377},{"s":"S/Ch/CNS","x":3555,"v":382},{"s":"S/Ch/CNS","x":3565,"v":352},{"s":"S/Ch/CNS","x":3575,"v":367},{"s":"S/Ch/CNS","x":3586,"v":337},{"s":"S/Ch/CNS","x":3596,"v":352},{"s":"S/Ch/CNS","x":3607,"v":312},{"s":"S/Ch/CNS","x":3617,"v":342},{"s":"S/Ch/CNS","x":3628,"v":327},{"s":"S/Ch/CNS","x":3638,"v":352},{"s":"S/Ch/CNS","x":3648,"v":332},{"s":"S/Ch/CNS","x":3659,"v":362},{"s":"S/Ch/CNS","x":3669,"v":322},{"s":"S/Ch/CNS","x":3679,"v":352},{"s":"S/Ch/CNS","x":3690,"v":372},{"s":"S/Ch/CNS","x":3701,"v":352},{"s":"S/Ch/CNS","x":3711,"v":322},{"s":"S/Ch/CNS","x":3722,"v":282},{"s":"S/Ch/CNS","x":3732,"v":247},{"s":"S/Ch/CNS","x":3743,"v":225},{"s":"S/Ch/CNS","x":3753,"v":262},{"s":"S/Ch/CNS","x":3763,"v":322},{"s":"S/Ch/CNS","x":3774,"v":352},{"s":"S/Ch/CNS","x":3784,"v":362},{"s":"S/Ch/CNS","x":3795,"v":347},{"s":"S/Ch/CNS","x":3805,"v":332},{"s":"S/Ch/CNS","x":3816,"v":322},{"s":"S/Ch/CNS","x":3826,"v":327},{"s":"S/Ch/CNS","x":3840,"v":307},{"s":"S/Ch/CNS","x":3851,"v":295},{"s":"S/Ch/CNS","x":3861,"v":317},{"s":"S/Ch/CNS","x":3872,"v":302},{"s":"S/Ch/CNS","x":3882,"v":342},{"s":"S/Ch/CNS","x":3892,"v":327},{"s":"S/Ch/CNS","x":3903,"v":357},{"s":"S/Ch/CNS","x":3913,"v":347},{"s":"S/Ch/CNS","x":3924,"v":372},{"s":"S/Ch/CNS","x":3937,"v":362},{"s":"S/Ch/CNS","x":3951,"v":382},{"s":"S/Ch/CNS","x":3965,"v":387},{"s":"S/Ch/CNS","x":3979,"v":395},{"s":"S/Ch/CNS","x":3997,"v":390},
{"s":"S/Ch/Cur/CNS","x":507,"v":0},{"s":"S/Ch/Cur/CNS","x":510,"v":12},{"s":"S/Ch/Cur/CNS","x":517,"v":32},{"s":"S/Ch/Cur/CNS","x":524,"v":52},{"s":"S/Ch/Cur/CNS","x":535,"v":72},{"s":"S/Ch/Cur/CNS","x":545,"v":82},{"s":"S/Ch/Cur/CNS","x":556,"v":97},{"s":"S/Ch/Cur/CNS","x":570,"v":122},{"s":"S/Ch/Cur/CNS","x":580,"v":132},{"s":"S/Ch/Cur/CNS","x":590,"v":152},{"s":"S/Ch/Cur/CNS","x":601,"v":182},{"s":"S/Ch/Cur/CNS","x":615,"v":205},{"s":"S/Ch/Cur/CNS","x":625,"v":222},{"s":"S/Ch/Cur/CNS","x":639,"v":247},{"s":"S/Ch/Cur/CNS","x":650,"v":265},{"s":"S/Ch/Cur/CNS","x":660,"v":262},{"s":"S/Ch/Cur/CNS","x":667,"v":287},{"s":"S/Ch/Cur/CNS","x":674,"v":295},{"s":"S/Ch/Cur/CNS","x":684,"v":302},{"s":"S/Ch/Cur/CNS","x":695,"v":317},{"s":"S/Ch/Cur/CNS","x":709,"v":322},{"s":"S/Ch/Cur/CNS","x":726,"v":327},{"s":"S/Ch/Cur/CNS","x":744,"v":330},{"s":"S/Ch/Cur/CNS","x":768,"v":332},{"s":"S/Ch/Cur/CNS","x":789,"v":335},{"s":"S/Ch/Cur/CNS","x":813,"v":337},{"s":"S/Ch/Cur/CNS","x":830,"v":332},{"s":"S/Ch/Cur/CNS","x":837,"v":325},{"s":"S/Ch/Cur/CNS","x":848,"v":349},{"s":"S/Ch/Cur/CNS","x":869,"v":352},{"s":"S/Ch/Cur/CNS","x":886,"v":350},{"s":"S/Ch/Cur/CNS","x":907,"v":354},{"s":"S/Ch/Cur/CNS","x":928,"v":350},{"s":"S/Ch/Cur/CNS","x":945,"v":344},{"s":"S/Ch/Cur/CNS","x":956,"v":337},{"s":"S/Ch/Cur/CNS","x":963,"v":319},{"s":"S/Ch/Cur/CNS","x":970,"v":342},{"s":"S/Ch/Cur/CNS","x":994,"v":345},{"s":"S/Ch/Cur/CNS","x":1022,"v":345},{"s":"S/Ch/Cur/CNS","x":1046,"v":347},{"s":"S/Ch/Cur/CNS","x":1074,"v":348},{"s":"S/Ch/Cur/CNS","x":1102,"v":349},{"s":"S/Ch/Cur/CNS","x":1126,"v":345},{"s":"S/Ch/Cur/CNS","x":1144,"v":337},{"s":"S/Ch/Cur/CNS","x":1154,"v":330},{"s":"S/Ch/Cur/CNS","x":1161,"v":325},{"s":"S/Ch/Cur/CNS","x":1171,"v":337},{"s":"S/Ch/Cur/CNS","x":1185,"v":349},{"s":"S/Ch/Cur/CNS","x":1206,"v":350},{"s":"S/Ch/Cur/CNS","x":1231,"v":349},{"s":"S/Ch/Cur/CNS","x":1255,"v":350},{"s":"S/Ch/Cur/CNS","x":1276,"v":344},{"s":"S/Ch/Cur/CNS","x":1293,"v":334},{"s":"S/Ch/Cur/CNS","x":1310,"v":329},{"s":"S/Ch/Cur/CNS","x":1328,"v":317},{"s":"S/Ch/Cur/CNS","x":1342,"v":292},{"s":"S/Ch/Cur/CNS","x":1352,"v":252},{"s":"S/Ch/Cur/CNS","x":1363,"v":222},{"s":"S/Ch/Cur/CNS","x":1370,"v":205},{"s":"S/Ch/Cur/CNS","x":1377,"v":262},{"s":"S/Ch/Cur/CNS","x":1387,"v":302},{"s":"S/Ch/Cur/CNS","x":1394,"v":315},{"s":"S/Ch/Cur/CNS","x":1405,"v":292},{"s":"S/Ch/Cur/CNS","x":1415,"v":242},{"s":"S/Ch/Cur/CNS","x":1425,"v":197},{"s":"S/Ch/Cur/CNS","x":1436,"v":222},{"s":"S/Ch/Cur/CNS","x":1446,"v":167},{"s":"S/Ch/Cur/CNS","x":1453,"v":192},{"s":"S/Ch/Cur/CNS","x":1464,"v":262},{"s":"S/Ch/Cur/CNS","x":1474,"v":279},{"s":"S/Ch/Cur/CNS","x":1485,"v":242},{"s":"S/Ch/Cur/CNS","x":1495,"v":182},{"s":"S/Ch/Cur/CNS","x":1505,"v":157},{"s":"S/Ch/Cur/CNS","x":1516,"v":182},{"s":"S/Ch/Cur/CNS","x":1526,"v":160},{"s":"S/Ch/Cur/CNS","x":1537,"v":192},{"s":"S/Ch/Cur/CNS","x":1547,"v":162},{"s":"S/Ch/Cur/CNS","x":1558,"v":222},{"s":"S/Ch/Cur/CNS","x":1568,"v":282},{"s":"S/Ch/Cur/CNS","x":1578,"v":323},{"s":"S/Ch/Cur/CNS","x":1589,"v":312},{"s":"S/Ch/Cur/CNS","x":1599,"v":322},{"s":"S/Ch/Cur/CNS","x":1610,"v":292},{"s":"S/Ch/Cur/CNS","x":1620,"v":307},{"s":"S/Ch/Cur/CNS","x":1631,"v":277},{"s":"S/Ch/Cur/CNS","x":1641,"v":262},{"s":"S/Ch/Cur/CNS","x":1652,"v":282},{"s":"S/Ch/Cur/CNS","x":1662,"v":242},{"s":"S/Ch/Cur/CNS","x":1672,"v":232},{"s":"S/Ch/Cur/CNS","x":1683,"v":202},{"s":"S/Ch/Cur/CNS","x":1693,"v":232},{"s":"S/Ch/Cur/CNS","x":1704,"v":257},{"s":"S/Ch/Cur/CNS","x":1714,"v":242},{"s":"S/Ch/Cur/CNS","x":1725,"v":267},{"s":"S/Ch/Cur/CNS","x":1735,"v":250},{"s":"S/Ch/Cur/CNS","x":1745,"v":246},{"s":"S/Ch/Cur/CNS","x":1756,"v":277},{"s":"S/Ch/Cur/CNS","x":1766,"v":262},{"s":"S/Ch/Cur/CNS","x":1777,"v":297},{"s":"S/Ch/Cur/CNS","x":1787,"v":301},{"s":"S/Ch/Cur/CNS","x":1798,"v":322},{"s":"S/Ch/Cur/CNS","x":1808,"v":317},{"s":"S/Ch/Cur/CNS","x":1819,"v":342},{"s":"S/Ch/Cur/CNS","x":1829,"v":352},{"s":"S/Ch/Cur/CNS","x":1840,"v":362},{"s":"S/Ch/Cur/CNS","x":1850,"v":372},{"s":"S/Ch/Cur/CNS","x":1864,"v":365},{"s":"S/Ch/Cur/CNS","x":1892,"v":369},{"s":"S/Ch/Cur/CNS","x":1926,"v":372},{"s":"S/Ch/Cur/CNS","x":1961,"v":372},{"s":"S/Ch/Cur/CNS","x":1996,"v":370},{"s":"S/Ch/Cur/CNS","x":2031,"v":367},{"s":"S/Ch/Cur/CNS","x":2055,"v":365},{"s":"S/Ch/Cur/CNS","x":2083,"v":360},{"s":"S/Ch/Cur/CNS","x":2110,"v":352},{"s":"S/Ch/Cur/CNS","x":2128,"v":364},{"s":"S/Ch/Cur/CNS","x":2142,"v":365},{"s":"S/Ch/Cur/CNS","x":2159,"v":355},{"s":"S/Ch/Cur/CNS","x":2180,"v":355},{"s":"S/Ch/Cur/CNS","x":2205,"v":362},{"s":"S/Ch/Cur/CNS","x":2240,"v":365},{"s":"S/Ch/Cur/CNS","x":2267,"v":364},{"s":"S/Ch/Cur/CNS","x":2281,"v":357},{"s":"S/Ch/Cur/CNS","x":2295,"v":332},{"s":"S/Ch/Cur/CNS","x":2309,"v":295},{"s":"S/Ch/Cur/CNS","x":2319,"v":322},{"s":"S/Ch/Cur/CNS","x":2326,"v":352},{"s":"S/Ch/Cur/CNS","x":2333,"v":402},{"s":"S/Ch/Cur/CNS","x":2340,"v":439},{"s":"S/Ch/Cur/CNS","x":2347,"v":422},{"s":"S/Ch/Cur/CNS","x":2354,"v":432},{"s":"S/Ch/Cur/CNS","x":2361,"v":392},{"s":"S/Ch/Cur/CNS","x":2368,"v":347},{"s":"S/Ch/Cur/CNS","x":2372,"v":332},{"s":"S/Ch/Cur/CNS","x":2379,"v":362},{"s":"S/Ch/Cur/CNS","x":2389,"v":365},{"s":"S/Ch/Cur/CNS","x":2448,"v":362},{"s":"S/Ch/Cur/CNS","x":2542,"v":359},{"s":"S/Ch/Cur/CNS","x":2604,"v":355},{"s":"S/Ch/Cur/CNS","x":2657,"v":352},{"s":"S/Ch/Cur/CNS","x":2709,"v":347},{"s":"S/Ch/Cur/CNS","x":2772,"v":339},{"s":"S/Ch/Cur/CNS","x":2796,"v":332},{"s":"S/Ch/Cur/CNS","x":2810,"v":317},{"s":"S/Ch/Cur/CNS","x":2824,"v":302},{"s":"S/Ch/Cur/CNS","x":2834,"v":282},{"s":"S/Ch/Cur/CNS","x":2841,"v":261},{"s":"S/Ch/Cur/CNS","x":2852,"v":277},{"s":"S/Ch/Cur/CNS","x":2862,"v":267},{"s":"S/Ch/Cur/CNS","x":2873,"v":271},{"s":"S/Ch/Cur/CNS","x":2883,"v":257},{"s":"S/Ch/Cur/CNS","x":2894,"v":246},{"s":"S/Ch/Cur/CNS","x":2904,"v":212},{"s":"S/Ch/Cur/CNS","x":2911,"v":182},{"s":"S/Ch/Cur/CNS","x":2918,"v":169},{"s":"S/Ch/Cur/CNS","x":2925,"v":222},{"s":"S/Ch/Cur/CNS","x":2935,"v":271},{"s":"S/Ch/Cur/CNS","x":2946,"v":252},{"s":"S/Ch/Cur/CNS","x":2956,"v":241},{"s":"S/Ch/Cur/CNS","x":2963,"v":302},{"s":"S/Ch/Cur/CNS","x":2970,"v":347},{"s":"S/Ch/Cur/CNS","x":2981,"v":362},{"s":"S/Ch/Cur/CNS","x":3005,"v":364},{"s":"S/Ch/Cur/CNS","x":3040,"v":360},{"s":"S/Ch/Cur/CNS","x":3064,"v":355},{"s":"S/Ch/Cur/CNS","x":3092,"v":359},{"s":"S/Ch/Cur/CNS","x":3120,"v":360},{"s":"S/Ch/Cur/CNS","x":3144,"v":364},{"s":"S/Ch/Cur/CNS","x":3179,"v":356},{"s":"S/Ch/Cur/CNS","x":3214,"v":352},{"s":"S/Ch/Cur/CNS","x":3238,"v":349},{"s":"S/Ch/Cur/CNS","x":3273,"v":348},{"s":"S/Ch/Cur/CNS","x":3308,"v":346},{"s":"S/Ch/Cur/CNS","x":3342,"v":345},{"s":"S/Ch/Cur/CNS","x":3371,"v":342},{"s":"S/Ch/Cur/CNS","x":3391,"v":337},{"s":"S/Ch/Cur/CNS","x":3398,"v":299},{"s":"S/Ch/Cur/CNS","x":3405,"v":335},{"s":"S/Ch/Cur/CNS","x":3422,"v":337},{"s":"S/Ch/Cur/CNS","x":3440,"v":332},{"s":"S/Ch/Cur/CNS","x":3457,"v":335},{"s":"S/Ch/Cur/CNS","x":3474,"v":327},{"s":"S/Ch/Cur/CNS","x":3492,"v":315},{"s":"S/Ch/Cur/CNS","x":3509,"v":302},{"s":"S/Ch/Cur/CNS","x":3527,"v":285},{"s":"S/Ch/Cur/CNS","x":3537,"v":272},{"s":"S/Ch/Cur/CNS","x":3548,"v":277},{"s":"S/Ch/Cur/CNS","x":3558,"v":252},{"s":"S/Ch/Cur/CNS","x":3568,"v":262},{"s":"S/Ch/Cur/CNS","x":3579,"v":232},{"s":"S/Ch/Cur/CNS","x":3589,"v":247},{"s":"S/Ch/Cur/CNS","x":3596,"v":232},{"s":"S/Ch/Cur/CNS","x":3607,"v":192},{"s":"S/Ch/Cur/CNS","x":3617,"v":232},{"s":"S/Ch/Cur/CNS","x":3628,"v":222},{"s":"S/Ch/Cur/CNS","x":3638,"v":245},{"s":"S/Ch/Cur/CNS","x":3648,"v":232},{"s":"S/Ch/Cur/CNS","x":3659,"v":252},{"s":"S/Ch/Cur/CNS","x":3669,"v":227},{"s":"S/Ch/Cur/CNS","x":3679,"v":257},{"s":"S/Ch/Cur/CNS","x":3690,"v":272},{"s":"S/Ch/Cur/CNS","x":3701,"v":242},{"s":"S/Ch/Cur/CNS","x":3711,"v":172},{"s":"S/Ch/Cur/CNS","x":3722,"v":132},{"s":"S/Ch/Cur/CNS","x":3732,"v":107},{"s":"S/Ch/Cur/CNS","x":3739,"v":92},{"s":"S/Ch/Cur/CNS","x":3746,"v":122},{"s":"S/Ch/Cur/CNS","x":3753,"v":202},{"s":"S/Ch/Cur/CNS","x":3763,"v":262},{"s":"S/Ch/Cur/CNS","x":3774,"v":282},{"s":"S/Ch/Cur/CNS","x":3784,"v":285},{"s":"S/Ch/Cur/CNS","x":3795,"v":262},{"s":"S/Ch/Cur/CNS","x":3805,"v":247},{"s":"S/Ch/Cur/CNS","x":3816,"v":239},{"s":"S/Ch/Cur/CNS","x":3826,"v":242},{"s":"S/Ch/Cur/CNS","x":3837,"v":212},{"s":"S/Ch/Cur/CNS","x":3847,"v":185},{"s":"S/Ch/Cur/CNS","x":3858,"v":212},{"s":"S/Ch/Cur/CNS","x":3868,"v":192},{"s":"S/Ch/Cur/CNS","x":3879,"v":222},{"s":"S/Ch/Cur/CNS","x":3889,"v":197},{"s":"S/Ch/Cur/CNS","x":3899,"v":205},{"s":"S/Ch/Cur/CNS","x":3910,"v":242},{"s":"S/Ch/Cur/CNS","x":3920,"v":272},{"s":"S/Ch/Cur/CNS","x":3931,"v":277},{"s":"S/Ch/Cur/CNS","x":3941,"v":292},{"s":"S/Ch/Cur/CNS","x":3951,"v":302},{"s":"S/Ch/Cur/CNS","x":3965,"v":297},{"s":"S/Ch/Cur/CNS","x":3979,"v":302},{"s":"S/Ch/Cur/CNS","x":3997,"v":289}
  ]},
  "layer": [
    {
      "mark": {"type": "line", "strokeWidth": 3, "clip": true},
      "encoding": {
        "x": {"field": "x", "type": "quantitative",
          "scale": {"domain": [500, 4000], "nice": false, "zero": false},
          "axis": {"orient": "bottom", "values": [1000, 1500, 2000, 2500, 3000, 3500, 4000], "format": "d", "grid": false, "domain": false,
            "tickSize": -15, "tickWidth": 3, "tickColor": "black", "labelFlush": false,
            "labelFont": "Liberation Sans", "labelFontSize": 30, "labelFontWeight": "bold", "labelColor": "#111111", "labelPadding": 36,
            "title": "Wavenumber (cm⁻¹)", "titleFont": "Liberation Sans", "titleFontSize": 39, "titleFontWeight": "bold", "titleColor": "#111111", "titlePadding": 16}},
        "y": {"field": "v", "type": "quantitative",
          "scale": {"domain": [0, 810], "nice": false, "zero": false},
          "axis": {"orient": "left", "values": [239, 477, 714], "grid": false, "domain": false, "labels": false,
            "tickSize": -15, "tickWidth": 3, "tickColor": "black",
            "title": "Intensity", "titleFont": "Liberation Sans", "titleFontSize": 40, "titleFontWeight": "bold", "titleColor": "#111111", "titlePadding": 30, "titleY": 388}},
        "color": {"field": "s", "type": "nominal",
          "scale": {"domain": ["Substrate", "S/Ch", "S/Ch/Cur", "S/Ch/CNS", "S/Ch/Cur/CNS"],
                    "range": ["#4a4a4a", "#ec3a3d", "#1e6fdb", "#37a565", "#b57de2"]},
          "legend": {"orient": "none", "legendX": 378, "legendY": 567, "title": null, "symbolType": "stroke", "symbolSize": 4900, "symbolStrokeWidth": 3,
            "labelFont": "Liberation Sans", "labelFontSize": 27, "labelFontWeight": "bold", "labelColor": "black", "labelLimit": 500, "clipHeight": 37.5, "rowPadding": 0, "labelOffset": 6}}
      }
    },
    {
      "transform": [{"filter": "datum.s == 'Substrate'"}],
      "mark": {"type": "line", "opacity": 0},
      "encoding": {
        "x": {"field": "x", "type": "quantitative",
          "axis": {"orient": "top", "values": [1000, 1500, 2000, 2500, 3000, 3500, 4000], "grid": false, "domain": false, "labels": false,
            "tickSize": -15, "tickWidth": 3, "tickColor": "black", "title": null}},
        "y": {"field": "v", "type": "quantitative", "axis": null}
      }
    }
  ],
  "resolve": {"axis": {"x": "independent", "y": "independent"}}
}
